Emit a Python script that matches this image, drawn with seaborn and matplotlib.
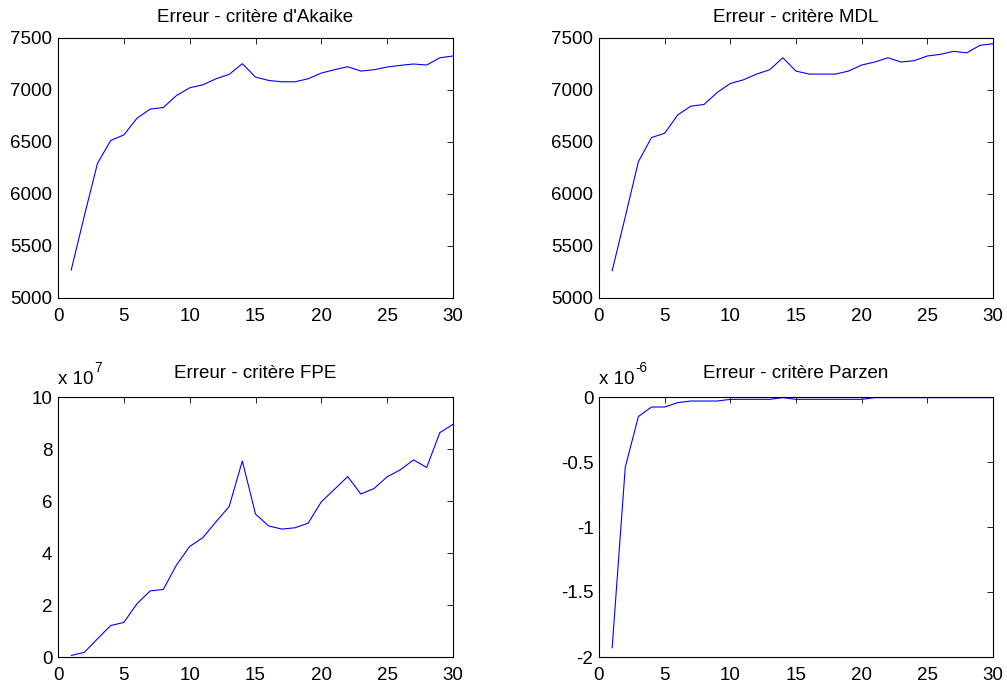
import numpy as np
import pandas as pd
import matplotlib
matplotlib.use("Agg")
import matplotlib.pyplot as plt
import seaborn as sns

# ---- data ----
orders = list(range(1, 31))

akaike = [5267, 5790, 6295, 6514, 6568, 6729, 6816, 6832, 6947, 7021,
          7050, 7108, 7150, 7253, 7124, 7092, 7079, 7079, 7108, 7163,
          7195, 7224, 7182, 7195, 7221, 7237, 7250, 7240, 7310, 7327]

mdl = [5261, 5781, 6311, 6543, 6584, 6761, 6845, 6861, 6976, 7063,
       7098, 7153, 7195, 7310, 7182, 7153, 7153, 7153, 7182, 7240,
       7269, 7310, 7269, 7282, 7327, 7343, 7372, 7357, 7429, 7445]

# FPE values in units of 1e7
fpe_e7 = [0.06, 0.18, 0.70, 1.21, 1.33, 2.05, 2.54, 2.60, 3.54, 4.25,
          4.59, 5.20, 5.79, 7.54, 5.50, 5.04, 4.92, 4.97, 5.15, 5.97,
          6.45, 6.94, 6.27, 6.48, 6.93, 7.20, 7.58, 7.29, 8.63, 8.95]

# Parzen values in units of 1e-6
parzen_em6 = [-1.93, -0.54, -0.15, -0.077, -0.077, -0.043, -0.031, -0.031, -0.031, -0.018,
              -0.018, -0.018, -0.018, -0.005, -0.018, -0.018, -0.018, -0.018, -0.018, -0.018,
              -0.005, -0.005, -0.005, -0.005, -0.005, -0.005, -0.005, -0.005, -0.005, -0.005]

titles = ["Erreur - critère d'Akaike", "Erreur - critère MDL",
          "Erreur - critère FPE", "Erreur - critère Parzen"]
xticks = [0, 5, 10, 15, 20, 25, 30]
yticks_ak = [5000, 5500, 6000, 6500, 7000, 7500]
yticks_fpe = [0, 2, 4, 6, 8, 10]
yticks_pz = [-2, -1.5, -1, -0.5, 0]
ytick_labels_pz = ["-2", "-1.5", "-1", "-0.5", "0"]
offset_base = "x 10"
offset_exp_fpe = "7"
offset_exp_pz = "-6"

# ---- style ----
sns.set_theme(style="white")
plt.rcParams['font.family'] = ['Liberation Sans', 'DejaVu Sans']
plt.rcParams['axes.unicode_minus'] = False

FS = 13.5
W, H = 1007, 691
fig = plt.figure(figsize=(W / 100, H / 100), dpi=100)
fig.patch.set_facecolor("white")

# axes boxes in pixels: left, top, right, bottom
boxes = [(58, 38, 453, 298), (599, 38, 993, 298),
         (58, 397, 453, 657), (599, 397, 993, 657)]
axes = []
for (l, t, r, b) in boxes:
    ax = fig.add_axes([l / W, 1 - b / H, (r - l) / W, (b - t) / H])
    axes.append(ax)

series = [akaike, mdl, fpe_e7, parzen_em6]
ylims = [(5000, 7500), (5000, 7500), (0, 10), (-2, 0)]
yticks_list = [yticks_ak, yticks_ak, yticks_fpe, yticks_pz]
pads = [11.5, 11.5, 13.5, 13.5]

for i, ax in enumerate(axes):
    df = pd.DataFrame({"x": orders, "y": series[i]})
    sns.lineplot(data=df, x="x", y="y", ax=ax, color=(0, 0, 1), linewidth=0.8)
    ax.set_xlim(0, 30)
    ax.set_ylim(*ylims[i])
    ax.set_xticks(xticks)
    ax.set_yticks(yticks_list[i])
    if i == 3:
        ax.set_yticklabels(ytick_labels_pz)
    ax.set_xlabel("")
    ax.set_ylabel("")
    ax.set_title(titles[i], fontsize=FS, pad=pads[i], color="black")
    ax.tick_params(direction="in", length=4, width=0.6, labelsize=FS,
                   top=True, right=True, colors="black")
    ax.tick_params(axis="x", pad=7)
    ax.tick_params(axis="y", pad=4)
    for sp in ax.spines.values():
        sp.set_visible(True)
        sp.set_color("black")
        sp.set_linewidth(0.8)
    ax.set_facecolor("white")
    ax.grid(False)

# multiplier labels ("x 10" with superscript exponent)
for ax, exp in [(axes[2], offset_exp_fpe), (axes[3], offset_exp_pz)]:
    t = ax.text(0.0, 1.035, offset_base, transform=ax.transAxes,
                fontsize=FS, ha="left", va="bottom", color="black")
    fig.canvas.draw()
    bb = t.get_window_extent()
    x_right = ax.transAxes.inverted().transform((bb.x1, bb.y0))[0]
    ax.text(x_right + 0.003, 1.085, exp, transform=ax.transAxes,
            fontsize=FS * 0.72, ha="left", va="bottom", color="black")

fig.savefig("out.png", dpi=100, facecolor="white")
